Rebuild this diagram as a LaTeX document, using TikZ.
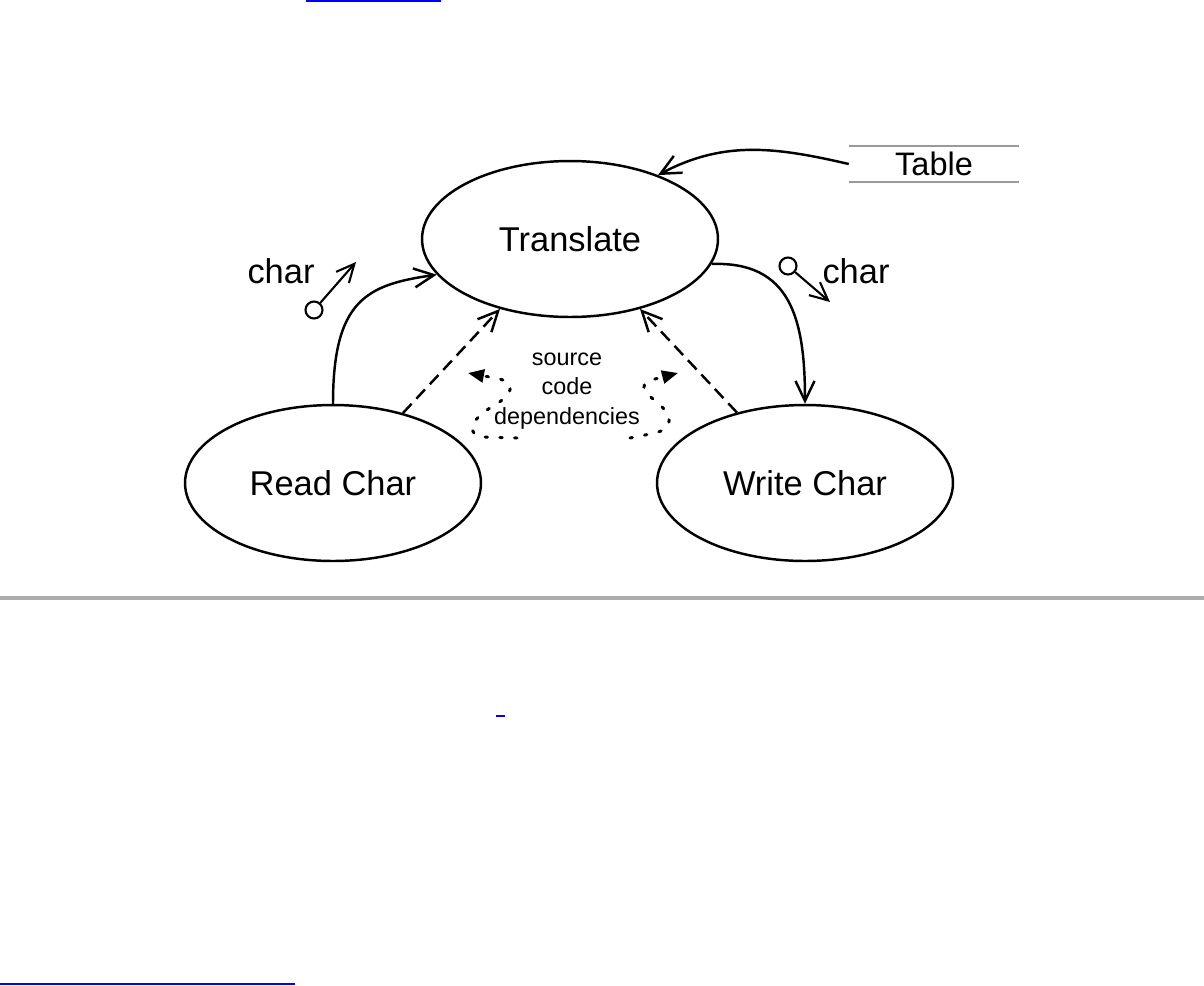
\documentclass[tikz,border=0pt]{standalone}
\usepackage{fontspec}
\setmainfont{Liberation Sans}
\usetikzlibrary{arrows.meta, positioning, shapes.geometric, calc}

\begin{document}
\begin{tikzpicture}[
			x = 0.02cm, y = 0.02cm,
			> = {Straight Barb[length=4mm,width=3.8mm]},
			line width = 1.4pt,
			proc/.style = {draw, ellipse, minimum width=5.92cm, minimum height=3.12cm,
				inner sep=0pt, font=\fontsize{19.6}{23}\selectfont},
			chartext/.style = {inner sep=0pt, font=\fontsize{19.6}{23}\selectfont},
			deptext/.style = {inner sep=0pt, align=center, font=\fontsize{13.3}{17}\selectfont},
			store/.style = {minimum width=3.36cm, minimum height=0.68cm, inner sep=0pt,
				font=\fontsize{18.5}{22}\selectfont},
			couple/.style = {draw, circle, minimum size=0.34cm, inner sep=0pt, line width=1.2pt},
			flow/.style = {->},
			charflow/.style = {-{Straight Barb[length=3.6mm,width=3.4mm]}, line width=1.2pt},
			depend/.style = {->, dash pattern=on 7.2pt off 4pt},
			srcdep/.style = {-{Triangle[length=3.2mm,width=2.6mm]}, line width=1.7pt,
				line cap=round, dash pattern=on 1.4pt off 7pt},
			linkline/.style = {draw=blue, line width=1.2pt}
			]
			
			\useasboundingbox (0,0) rectangle (1204,-985);
			
			% page rule and link underlines
			\draw[gray!65, line width=2.3pt] (0,-598) -- (1204,-598);
			\draw[linkline] (306,-0.5) -- (441,-0.5);
			\draw[linkline] (496,-716) -- (505,-716);
			\draw[linkline] (0,-984) -- (295,-984);
			
			% Define processes
			\node[proc] (trans) at (570,-239) {Translate};
			\node[proc] (read) at (333,-483) {Read Char};
			\node[proc] (write) at (805,-483) {Write Char};
			\node[store] (table) at (934,-164) {Table};
			\draw[gray!80, line width=1.1pt] (table.north west) -- (table.north east)
				(table.south west) -- (table.south east);
			
			% Define couples
			\node[chartext] (lchar) at (281,-271) {char};
			\node[couple] (lcirc) at (314,-310) {};
			\coordinate (ltip) at (356,-262);
			\node[chartext] (rchar) at (856,-271) {char};
			\node[couple] (rcirc) at (788,-266) {};
			\coordinate (rtip) at (830,-302);
			\node[deptext] (deps) at (567,-391) {source\\code\\dependencies};
			
			% Define transitions
			\draw[flow] (read.north) to[out=90,in=188,out looseness=1.6,in looseness=1.1] (trans.195);
			\draw[flow] (trans.-10) to[out=2,in=90,out looseness=1.2,in looseness=1.3] (write.north);
			\draw[flow] (table.west) to[out=167,in=28] (trans.36);
			\draw[depend] (read.45) -- (trans.225);
			\draw[depend] (write.134) -- (trans.-45);
			\draw[charflow] (lcirc) -- (ltip);
			\draw[charflow] (rcirc) -- (rtip);
			
			% Define dependency hints
			\coordinate (ldot) at (517,-438);
			\coordinate (ldottip) at (468,-373);
			\coordinate (rdot) at (630,-438);
			\coordinate (rdottip) at (678,-373);
			\draw[srcdep] (ldot) -- (485,-437) .. controls (465,-436) and (470,-420) .. (490,-408)
				.. controls (508,-398) and (520,-385) .. (500,-379) -- (ldottip);
			\draw[srcdep] (rdot) -- (655,-433) .. controls (675,-428) and (672,-415) .. (657,-402)
				.. controls (640,-390) and (640,-382) .. (655,-379) -- (rdottip);
			
		\end{tikzpicture}
\end{document}
